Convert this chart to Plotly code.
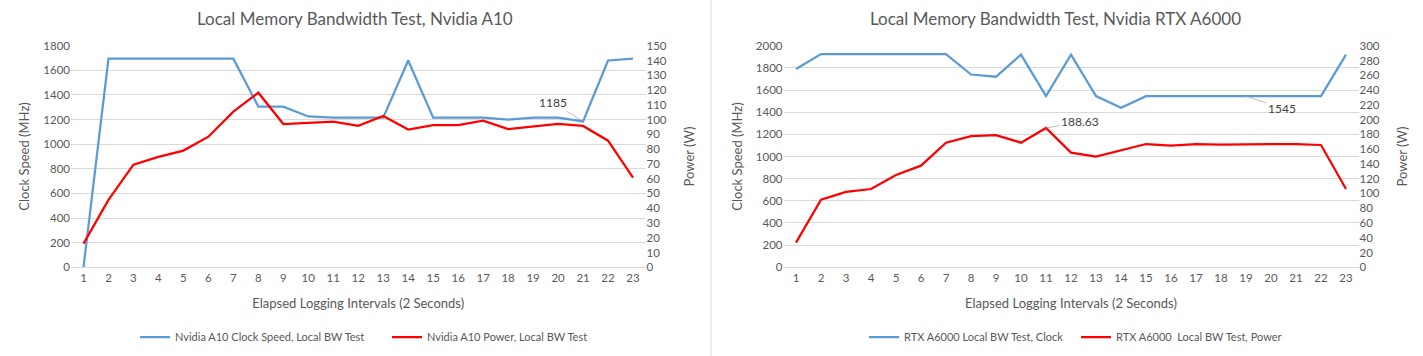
import plotly.graph_objects as go

intervals = list(range(1, 24))

a10_clock = [0, 1695, 1695, 1695, 1695, 1695, 1695, 1305, 1305, 1225, 1215, 1215, 1215,
             1680, 1215, 1215, 1215, 1200, 1215, 1215, 1185, 1680, 1695]
a10_power = [16.0, 45.6, 69.5, 74.7, 79.0, 88.4, 105.4, 118.2, 97.0, 97.9, 98.6, 95.7, 102.4,
             93.2, 96.3, 96.3, 99.3, 93.6, 95.4, 97.0, 95.7, 85.7, 60.7]

a6000_clock = [1790, 1925, 1925, 1925, 1925, 1925, 1925, 1740, 1720, 1920, 1545, 1920, 1545,
               1440, 1545, 1545, 1545, 1545, 1545, 1545, 1545, 1545, 1920]
a6000_power = [33.4, 91.6, 102.0, 106.0, 125.0, 137.6, 168.7, 177.7, 179.0, 168.7, 188.63, 155.2,
               149.8, 157.9, 166.9, 164.7, 166.9, 166.0, 166.9, 166.9, 166.9, 165.6, 106.0]

titles = ["Local Memory Bandwidth Test, Nvidia A10", "Local Memory Bandwidth Test, Nvidia RTX A6000"]
x_title = "Elapsed Logging Intervals (2 Seconds)"
y_left_title = "Clock Speed (MHz)"
y_right_title = "Power (W)"
names = ["Nvidia A10 Clock Speed, Local BW Test", "Nvidia A10 Power, Local BW Test",
         "RTX A6000 Local BW Test, Clock", "RTX A6000  Local BW Test, Power"]

W, H = 1423, 356
FONT = "Lato"
GREY = "#595959"
GRID = "#d9d9d9"
BLUE = "#5B9BD5"
RED = "#FF0000"

def px(x):
    return x / W

def py(y):
    return 1 - y / H

fig = go.Figure()
fig.add_trace(go.Scatter(x=intervals, y=a10_clock, name=names[0], mode="lines",
                         line=dict(color=BLUE, width=2.25), xaxis="x", yaxis="y", legend="legend"))
fig.add_trace(go.Scatter(x=intervals, y=a10_power, name=names[1], mode="lines",
                         line=dict(color=RED, width=2.25), xaxis="x", yaxis="y2", legend="legend"))
fig.add_trace(go.Scatter(x=intervals, y=a6000_clock, name=names[2], mode="lines",
                         line=dict(color=BLUE, width=2.25), xaxis="x2", yaxis="y3", legend="legend2"))
fig.add_trace(go.Scatter(x=intervals, y=a6000_power, name=names[3], mode="lines",
                         line=dict(color=RED, width=2.25), xaxis="x2", yaxis="y4", legend="legend2"))

ydom = [py(267.3), py(45.7)]
tickfont = dict(family=FONT, size=11.5, color=GREY)
titlefont = dict(family=FONT, size=13, color=GREY)

def xaxis(dom, anchor):
    return dict(domain=dom, anchor=anchor, range=[0.5, 23.5], tickmode="array",
                tickvals=intervals, ticktext=[str(i) for i in intervals], showgrid=False,
                zeroline=False, showline=True, linecolor=GRID, linewidth=1, ticks="",
                tickfont=tickfont, title=dict(text=x_title, font=titlefont, standoff=15),
                automargin=False, fixedrange=True)

def yleft(rng, dtick, anchor, standoff):
    return dict(domain=ydom, anchor=anchor, range=rng, dtick=dtick, showgrid=True,
                gridcolor=GRID, gridwidth=1, zeroline=False, ticks="", tickfont=tickfont,
                title=dict(text=y_left_title, font=titlefont, standoff=standoff),
                automargin=False, fixedrange=True)

def yright(rng, dtick, anchor, overlay):
    return dict(domain=ydom, anchor=anchor, overlaying=overlay, side="right", range=rng,
                dtick=dtick, showgrid=False, zeroline=False, ticks="", tickfont=tickfont,
                title=dict(text=y_right_title, font=titlefont, standoff=19),
                automargin=False, fixedrange=True)

legfont = dict(family=FONT, size=11, color=GREY)

fig.update_layout(
    width=W, height=H, margin=dict(l=0, r=0, t=0, b=0, pad=0), autosize=False,
    paper_bgcolor="white", plot_bgcolor="white",
    font=dict(family=FONT, color=GREY),
    xaxis=xaxis([px(71), px(645.5)], "y"),
    yaxis=yleft([0, 1800], 200, "x", 10),
    yaxis2=yright([0, 150], 10, "x", "y"),
    xaxis2=xaxis([px(783.5), px(1358.5)], "y3"),
    yaxis3=yleft([0, 2000], 200, "x2", 10),
    yaxis4=yright([0, 300], 20, "x2", "y3"),
    legend=dict(orientation="h", x=px(135), xanchor="left", y=py(337), yanchor="middle",
                font=legfont, bgcolor="rgba(0,0,0,0)", itemwidth=30,
                entrywidth=207, entrywidthmode="pixels"),
    legend2=dict(orientation="h", x=px(864), xanchor="left", y=py(337), yanchor="middle",
                 font=legfont, bgcolor="rgba(0,0,0,0)", itemwidth=30,
                 entrywidth=167, entrywidthmode="pixels"),
    showlegend=True,
)

# chart titles
fig.add_annotation(text=titles[0], x=px(355), y=py(19), xref="paper", yref="paper",
                   xanchor="center", yanchor="middle",
                   showarrow=False, font=dict(family=FONT, size=17, color=GREY))
fig.add_annotation(text=titles[1], x=px(1055), y=py(19), xref="paper", yref="paper",
                   xanchor="center", yanchor="middle",
                   showarrow=False, font=dict(family=FONT, size=17, color=GREY))

# data labels
lab_font = dict(family=FONT, size=12, color="#404040")
fig.add_annotation(text=f"{a10_clock[20]}", x=intervals[20], y=a10_clock[20], xref="x", yref="y",
                   showarrow=True, arrowhead=0, arrowwidth=0.75, arrowcolor="#a6a6a6",
                   ax=-30, ay=-19, font=lab_font)
fig.add_annotation(text=f"{a6000_power[10]}", x=intervals[10], y=a6000_power[10], xref="x2", yref="y4",
                   showarrow=True, arrowhead=0, arrowwidth=0.75, arrowcolor="#a6a6a6",
                   ax=34, ay=-6, font=lab_font)
fig.add_annotation(text=f"{a6000_clock[18]}", x=intervals[18], y=a6000_clock[18], xref="x2", yref="y3",
                   showarrow=True, arrowhead=0, arrowwidth=0.75, arrowcolor="#a6a6a6",
                   ax=36, ay=12, font=lab_font)

# divider between the two charts
fig.add_shape(type="line", xref="paper", yref="paper", x0=px(711), x1=px(711), y0=0, y1=1,
              line=dict(color=GRID, width=1))

fig.write_html("out.html", config={"displayModeBar": False},
               post_script="document.body.style.margin='0';document.body.style.overflow='hidden';")
